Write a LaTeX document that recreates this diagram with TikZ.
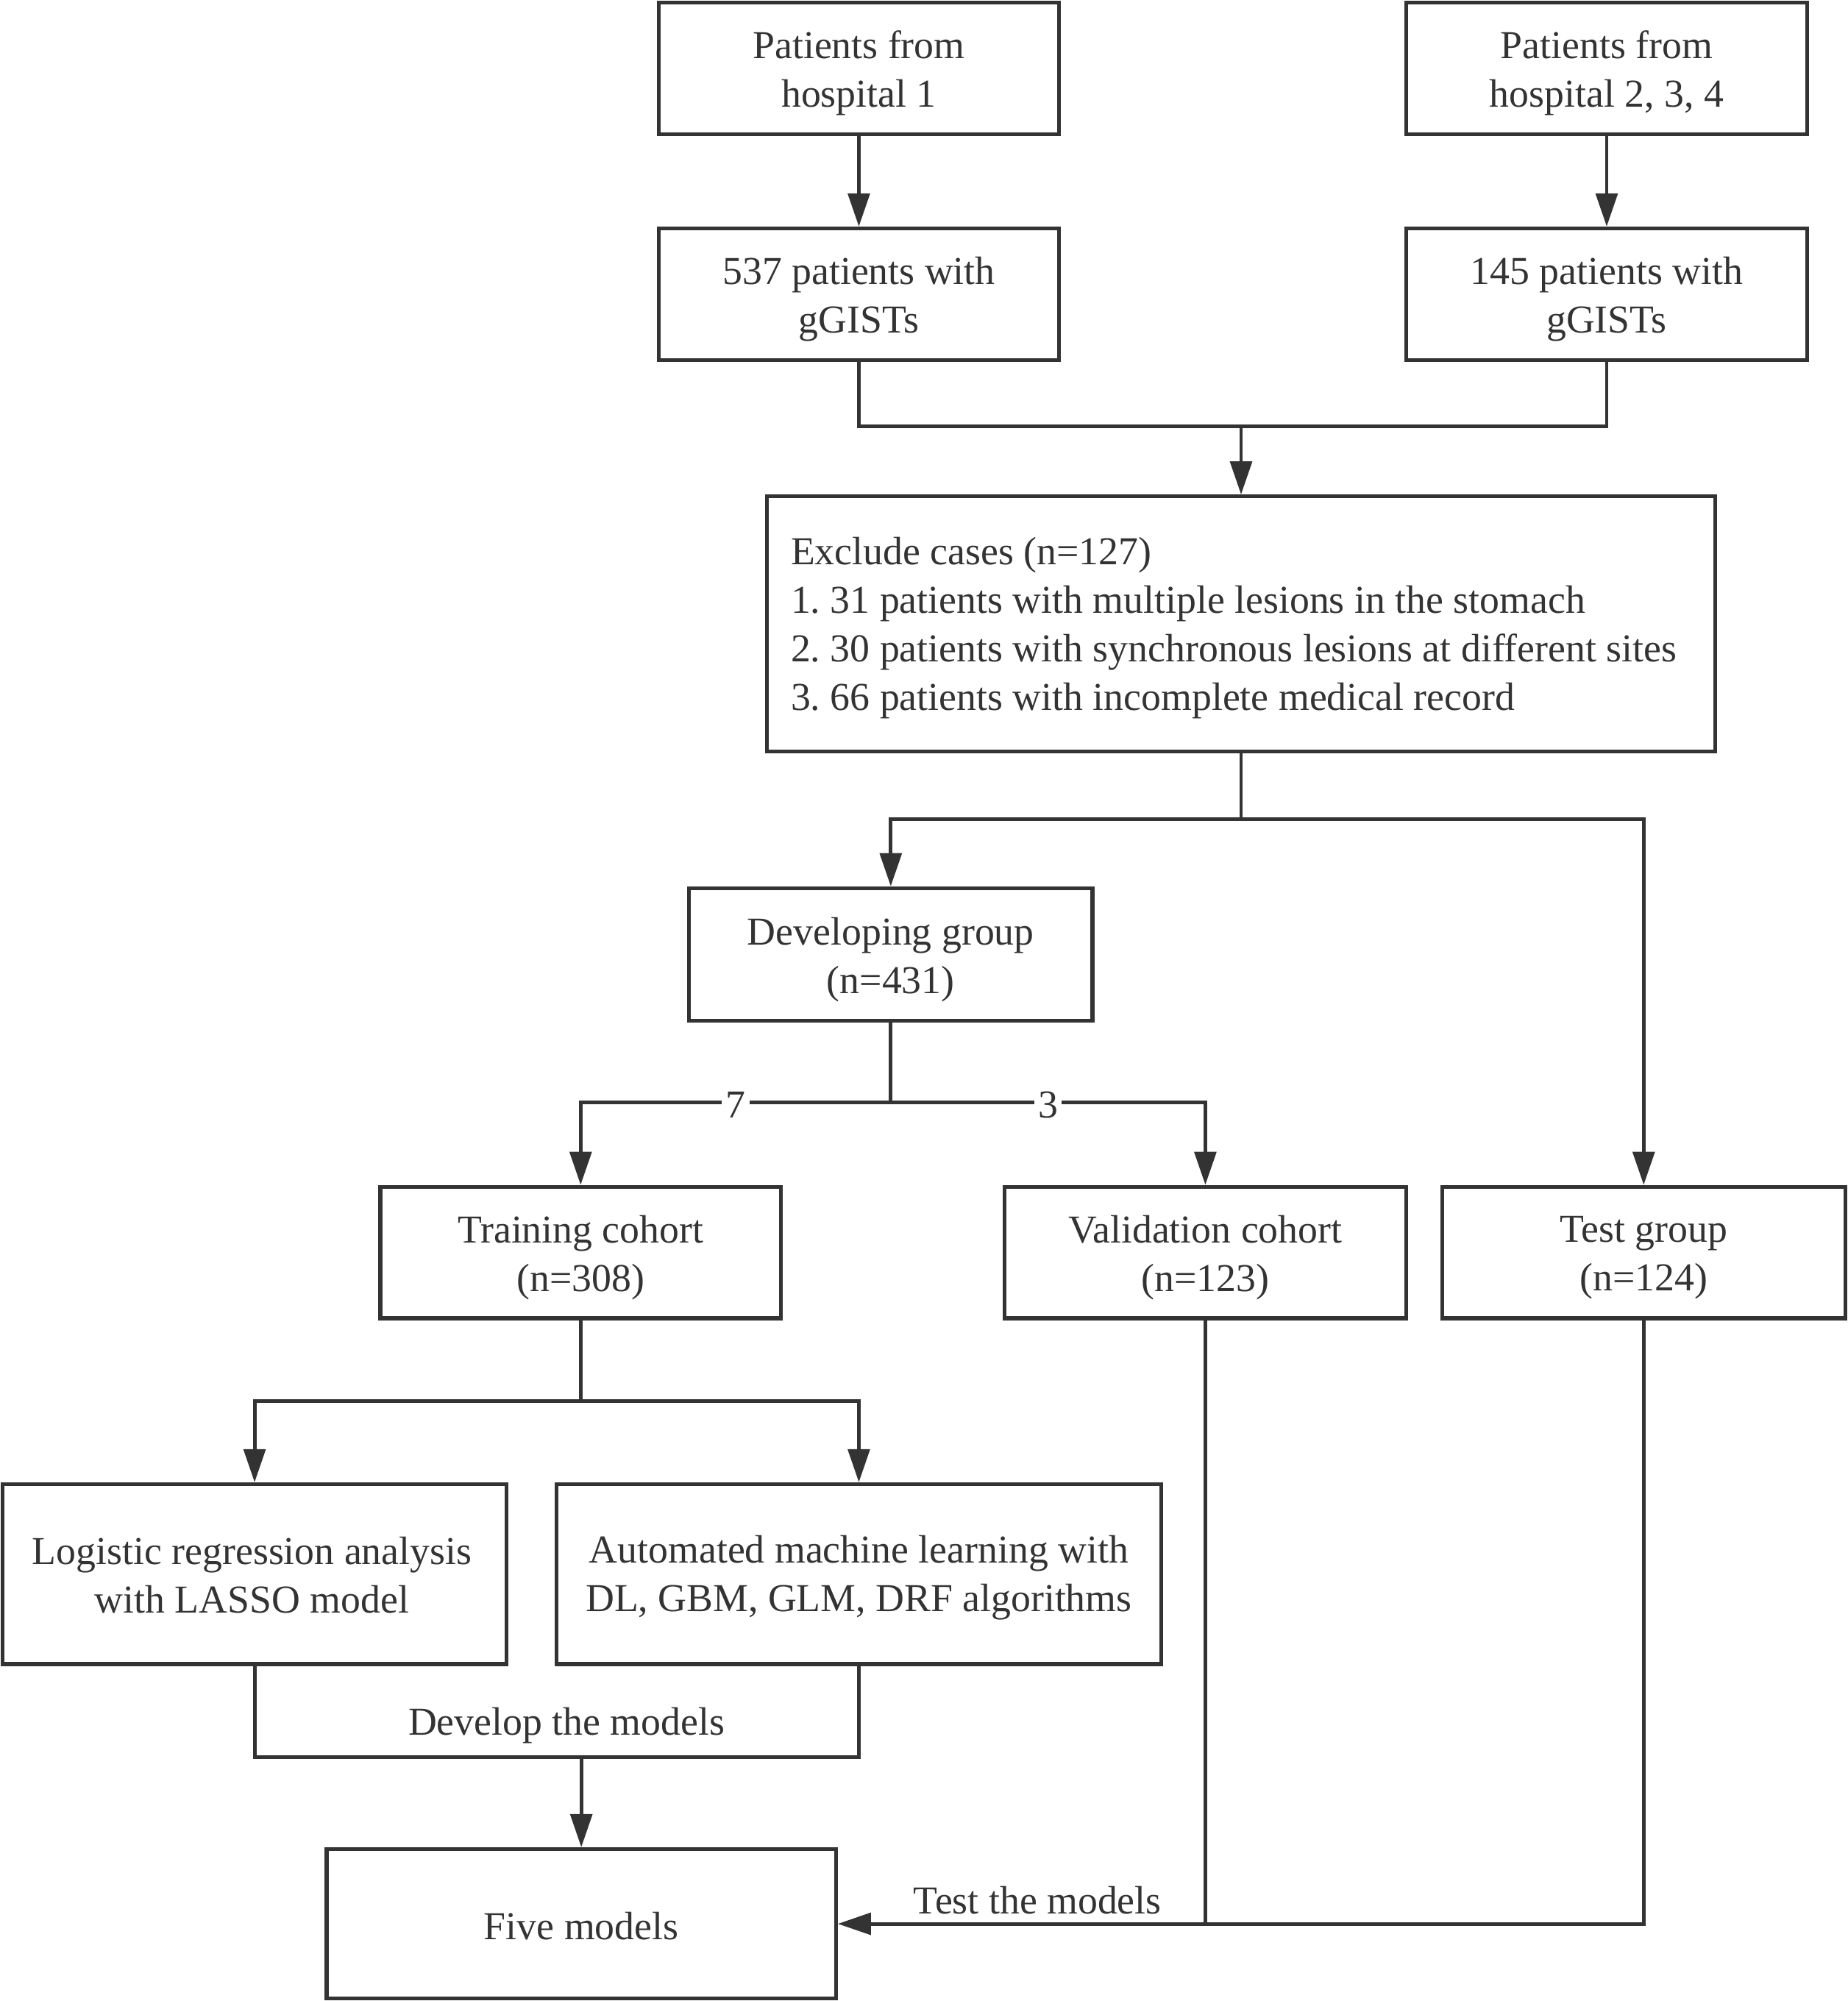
\documentclass[tikz,border=0pt]{standalone}
\usepackage{fontspec}
\setmainfont{Liberation Serif}
\usetikzlibrary{arrows.meta,calc}
\definecolor{ink}{HTML}{333333}
\frenchspacing
\begin{document}
\begin{tikzpicture}[x=1pt,y=-1pt,
  box/.style={draw=ink, line width=3pt, inner sep=0pt},
  tx/.style={text=ink, align=center, inner sep=0pt, font=\fontsize{31}{38}\selectfont},
  conn/.style={draw=ink, line width=2.8pt},
  arr/.style={conn, -{Triangle[length=26pt,width=17pt]}},
  lbl/.style={text=ink, font=\fontsize{31}{38}\selectfont, inner sep=1pt},
  numlbl/.style={lbl, fill=white, inner xsep=3pt, inner ysep=0pt}]
\useasboundingbox (0,0) rectangle (1448,1568);

% boxes
\node[box, minimum width=314pt, minimum height=103pt] (A) at (673,53.5) {};
\node[tx] (At) at ([yshift=-4pt]A.center) {Patients from\\hospital 1};
\node[box, minimum width=314pt, minimum height=103pt] (B) at (1259,53.5) {};
\node[tx] (Bt) at ([yshift=-4pt]B.center) {Patients from\\hospital 2, 3, 4};
\node[box, minimum width=314pt, minimum height=103pt] (C) at (673,230.5) {};
\node[tx] (Ct) at ([yshift=-4pt]C.center) {537 patients with\\gGISTs};
\node[box, minimum width=314pt, minimum height=103pt] (D) at (1259,230.5) {};
\node[tx] (Dt) at ([yshift=-4pt]D.center) {145 patients with\\gGISTs};
\node[box, minimum width=743pt, minimum height=200pt] (E) at (972.5,489) {};
\node[tx, align=left, anchor=west] (Et) at ([xshift=20pt,yshift=-3pt]E.west)
  {Exclude cases (n=127)\\1. 31 patients with multiple lesions in the stomach\\2. 30 patients with synchronous lesions at different sites\\3. 66 patients with incomplete medical record};
\node[box, minimum width=316pt, minimum height=104pt] (F) at (698,748) {};
\node[tx] (Ft) at ([yshift=-4pt]F.center) {Developing group\\(n=431)};
\node[box, minimum width=314pt, minimum height=103pt] (G) at (455,981.5) {};
\node[tx] (Gt) at ([yshift=-4pt]G.center) {Training cohort\\(n=308)};
\node[box, minimum width=315pt, minimum height=103pt] (H) at (944.5,981.5) {};
\node[tx] (Ht) at ([yshift=-4pt]H.center) {Validation cohort\\(n=123)};
\node[box, minimum width=316pt, minimum height=103pt] (I) at (1288,981.5) {};
\node[tx] (It) at ([yshift=-4pt]I.center) {Test group\\(n=124)};
\node[box, minimum width=395pt, minimum height=141pt] (J) at (199.5,1233.5) {};
\node[tx] (Jt) at ([xshift=-2pt,yshift=-1pt]J.center) {Logistic regression analysis\\with LASSO model};
\node[box, minimum width=474pt, minimum height=141pt] (K) at (673,1233.5) {};
\node[tx] (Kt) at ([yshift=-3pt]K.center) {Automated machine learning with\\DL, GBM, GLM, DRF algorithms};
\node[box, minimum width=399pt, minimum height=117pt] (L) at (455.5,1507.5) {};
\node[tx] (Lt) at ([yshift=-2pt]L.center) {Five models};

% connectors
\draw[arr] (A) -- (C);
\draw[arr] (B) -- (D);

\coordinate (m1) at (972.5,334);
\draw[conn] (C.south) |- (m1) -| (D.south);
\draw[arr] (m1) -- (E.north);

\coordinate (m2) at (972.5,642);
\draw[conn] (E.south) -- (m2);
\draw[arr] (m2) -| (F.north);
\draw[arr] (m2) -| (I.north);

\coordinate (m3) at (698,864);
\draw[conn] (F.south) -- (m3);
\draw[arr] (m3) -| node[numlbl, pos=0.25, yshift=-2pt] (seven) {7} (G.north);
\draw[arr] (m3) -| node[numlbl, pos=0.25, yshift=-2pt] (three) {3} (H.north);

\coordinate (m4) at (455,1098);
\draw[conn] (G.south) -- (m4);
\draw[arr] (m4) -| (J.north);
\draw[arr] (m4) -| (K.north);

\coordinate (m5) at (455.5,1377);
\draw[conn] (J.south) |- (m5) -| (K.south);
\node[lbl] (dev) at (444,1352) {Develop the models};
\draw[arr] (m5) -- (L.north);

\coordinate (m6) at (944.5,1507.5);
\draw[conn] (H.south) -- (m6);
\draw[arr] (I.south) |- (L.east);
\node[lbl] (test) at (813,1489) {Test the models};
\end{tikzpicture}
\end{document}
